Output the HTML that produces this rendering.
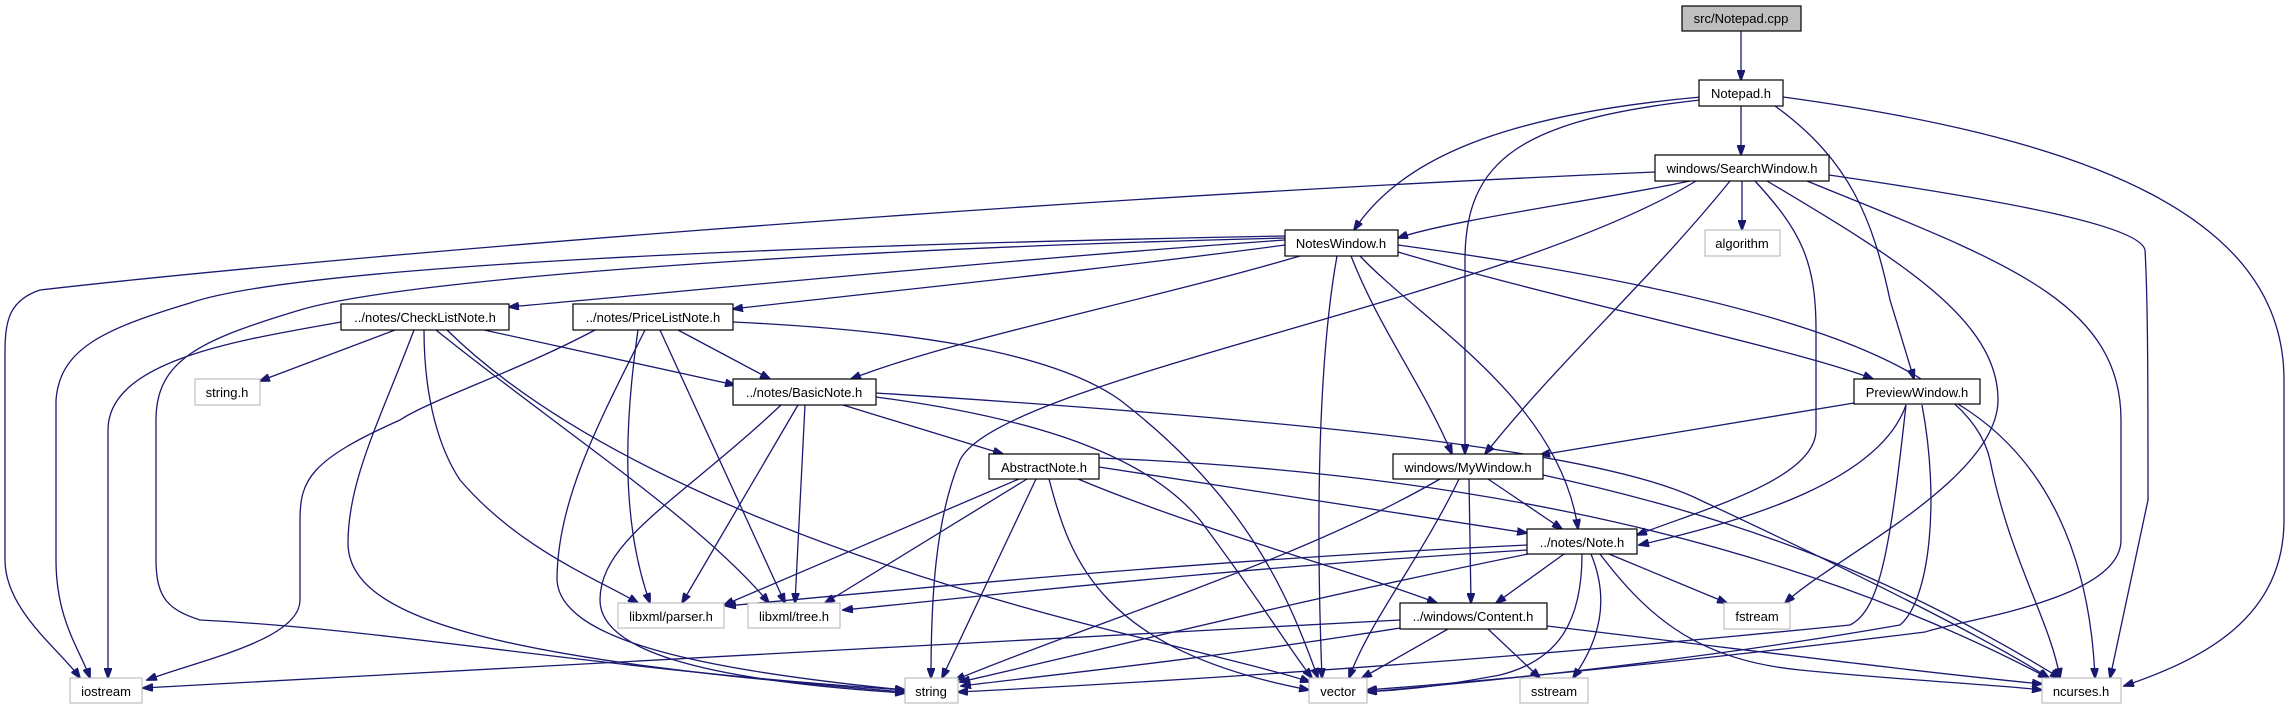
<!DOCTYPE html>
<html><head><meta charset="utf-8"><style>
html,body{margin:0;padding:0;background:#fff;}
svg{display:block}
text{font-family:"Liberation Sans",Arial,sans-serif;font-size:13px;text-anchor:middle;fill:#000}
.e{fill:none;stroke:#191970;stroke-width:1.3;marker-end:url(#a)}
.n{fill:#fff;stroke:#000;stroke-width:1.2}
.g{fill:#fff;stroke:#bfbfbf;stroke-width:1.2}
</style></head><body>
<svg width="2288" height="709" viewBox="0 0 2288 709" xmlns="http://www.w3.org/2000/svg">
<defs><marker id="a" markerWidth="11" markerHeight="8" refX="10" refY="4" orient="auto" markerUnits="userSpaceOnUse"><path d="M0,0 L11,4 L0,8 z" fill="#191970" stroke="#191970"/></marker></defs>
<g>
<path class="e" d="M1741,31 L1741,80"/>
<path class="e" d="M1741,106 L1741,155"/>
<path class="e" d="M1701,97 C1500,115 1400,160 1354,230"/>
<path class="e" d="M1700,100 C1520,120 1465,160 1465,260 L1465,454"/>
<path class="e" d="M1775,106 C1850,160 1873,220 1890,300 L1914,379"/>
<path class="e" d="M1783,97 C2100,140 2284,220 2284,380 L2284,520 C2284,620 2200,660 2124,686"/>
<path class="e" d="M1655,172 C1000,200 300,260 40,290 C10,300 5,320 5,350 L5,560 C5,610 60,650 80,678"/>
<path class="e" d="M1690,181 C1600,200 1450,220 1398,238"/>
<path class="e" d="M1696,181 C1500,300 1000,380 960,460 C935,520 931,600 931,678"/>
<path class="e" d="M1742,181 L1742,230"/>
<path class="e" d="M1730,181 C1650,280 1560,360 1485,454"/>
<path class="e" d="M1755,181 C1800,230 1816,260 1816,330 L1816,430 C1816,480 1700,510 1637,535"/>
<path class="e" d="M1767,181 C1900,260 1998,320 1998,400 C1998,480 1830,560 1785,603"/>
<path class="e" d="M1807,181 C2000,260 2121,300 2121,420 L2121,540 C2121,600 1960,620 1925,632 C1700,660 1500,680 1367,690"/>
<path class="e" d="M1829,175 C2000,200 2140,225 2145,250 C2148,300 2148,400 2148,500 L2110,678"/>
<path class="e" d="M1285,240 C1000,260 700,290 509,307"/>
<path class="e" d="M1285,245 C1100,270 850,295 733,309"/>
<path class="e" d="M1300,256 C1150,300 950,340 851,379"/>
<path class="e" d="M1285,236 C800,245 300,265 190,303 C100,330 60,350 56,400 L56,560 C56,620 80,650 90,678"/>
<path class="e" d="M1285,238 C800,250 400,280 300,310 C200,340 156,360 156,420 L156,560 C156,600 170,610 200,620 C400,630 600,670 905,690"/>
<path class="e" d="M1337,256 C1320,350 1315,500 1322,678"/>
<path class="e" d="M1351,256 C1380,330 1420,380 1452,454"/>
<path class="e" d="M1360,256 C1420,320 1560,400 1578,529"/>
<path class="e" d="M1398,252 C1560,300 1800,350 1873,379"/>
<path class="e" d="M1398,245 C1800,300 1970,370 1990,460 C2010,560 2050,620 2060,678"/>
<path class="e" d="M395,330 L260,381"/>
<path class="e" d="M484,330 L735,385"/>
<path class="e" d="M341,322 C240,340 108,360 108,430 L108,678"/>
<path class="e" d="M414,330 C380,420 348,480 348,543 C348,620 500,660 905,692"/>
<path class="e" d="M424,330 C424,400 440,450 460,480 C520,550 600,580 638,603"/>
<path class="e" d="M436,330 C560,430 700,520 769,603"/>
<path class="e" d="M447,330 C600,480 900,580 1150,640 C1250,665 1290,675 1310,682"/>
<path class="e" d="M678,330 L770,379"/>
<path class="e" d="M595,330 C520,370 430,400 400,420 C310,460 300,480 300,520 L300,600 C300,640 200,660 147,680"/>
<path class="e" d="M645,330 C600,420 557,500 557,580 C560,640 700,670 905,690"/>
<path class="e" d="M638,330 C625,420 620,520 650,603"/>
<path class="e" d="M660,330 L785,603"/>
<path class="e" d="M733,322 C900,330 1050,350 1120,400 C1250,500 1290,600 1318,678"/>
<path class="e" d="M843,405 L1003,454"/>
<path class="e" d="M798,405 L682,603"/>
<path class="e" d="M805,405 L795,603"/>
<path class="e" d="M781,405 C680,500 600,540 600,600 C600,650 700,680 905,693"/>
<path class="e" d="M876,397 C1050,420 1150,460 1200,520 C1260,600 1290,650 1312,678"/>
<path class="e" d="M876,393 C1300,420 1600,450 1700,500 C1850,570 1990,640 2049,678"/>
<path class="e" d="M1019,479 L724,605"/>
<path class="e" d="M1027,479 L825,603"/>
<path class="e" d="M1036,479 L942,678"/>
<path class="e" d="M1049,479 C1070,560 1100,650 1309,690"/>
<path class="e" d="M1099,467 L1527,533"/>
<path class="e" d="M1078,479 C1200,530 1350,570 1437,603"/>
<path class="e" d="M1099,458 C1400,470 1750,520 2048,678"/>
<path class="e" d="M1854,403 L1540,455"/>
<path class="e" d="M1906,405 C1880,480 1750,520 1639,545"/>
<path class="e" d="M1906,405 C1890,550 1880,610 1850,625 C1500,660 1200,680 958,692"/>
<path class="e" d="M1922,405 C1940,500 1930,600 1900,625 C1700,660 1500,680 1367,692"/>
<path class="e" d="M1958,404 C2050,460 2090,560 2095,678"/>
<path class="e" d="M1488,479 L1562,529"/>
<path class="e" d="M1469,479 L1471,603"/>
<path class="e" d="M1440,479 C1300,560 1100,620 955,680"/>
<path class="e" d="M1459,479 C1420,560 1370,620 1349,678"/>
<path class="e" d="M1543,475 C1750,520 1900,580 2060,678"/>
<path class="e" d="M1527,545 C1200,560 900,590 726,606"/>
<path class="e" d="M1527,550 C1200,570 950,600 843,610"/>
<path class="e" d="M1564,554 L1496,603"/>
<path class="e" d="M1609,554 L1727,603"/>
<path class="e" d="M1528,554 C1300,600 1100,650 960,682"/>
<path class="e" d="M1582,554 C1582,620 1560,660 1500,675 C1420,690 1390,690 1367,692"/>
<path class="e" d="M1591,554 C1610,600 1600,640 1573,678"/>
<path class="e" d="M1600,554 C1650,620 1700,660 1800,670 C1900,680 2000,685 2042,690"/>
<path class="e" d="M1400,620 C1000,640 500,670 143,688"/>
<path class="e" d="M1400,628 C1200,660 1050,675 961,686"/>
<path class="e" d="M1448,629 L1362,678"/>
<path class="e" d="M1488,629 L1540,678"/>
<path class="e" d="M1547,626 C1750,650 1900,670 2042,684"/>
</g>
<g>
<rect x="1682" y="6" width="119" height="25" fill="#bfbfbf" stroke="#000" stroke-width="1.2"/><text x="1741" y="23">src/Notepad.cpp</text>
<rect class="n" x="1699" y="80" width="84" height="26"/><text x="1741" y="98">Notepad.h</text>
<rect class="n" x="1655" y="155" width="174" height="26"/><text x="1742" y="173">windows/SearchWindow.h</text>
<rect class="n" x="1285" y="230" width="113" height="26"/><text x="1341" y="248">NotesWindow.h</text>
<rect class="g" x="1705" y="230" width="75" height="26"/><text x="1742" y="248">algorithm</text>
<rect class="n" x="341" y="304" width="168" height="26"/><text x="425" y="322">../notes/CheckListNote.h</text>
<rect class="n" x="573" y="304" width="160" height="26"/><text x="653" y="322">../notes/PriceListNote.h</text>
<rect class="g" x="195" y="379" width="65" height="26"/><text x="227" y="397">string.h</text>
<rect class="n" x="733" y="379" width="143" height="26"/><text x="804" y="397">../notes/BasicNote.h</text>
<rect class="n" x="1854" y="379" width="126" height="25"/><text x="1917" y="397">PreviewWindow.h</text>
<rect class="n" x="989" y="454" width="110" height="25"/><text x="1044" y="472">AbstractNote.h</text>
<rect class="n" x="1393" y="454" width="150" height="25"/><text x="1468" y="472">windows/MyWindow.h</text>
<rect class="n" x="1527" y="529" width="110" height="25"/><text x="1582" y="547">../notes/Note.h</text>
<rect class="g" x="618" y="603" width="106" height="25"/><text x="671" y="621">libxml/parser.h</text>
<rect class="g" x="748" y="603" width="92" height="25"/><text x="794" y="621">libxml/tree.h</text>
<rect class="n" x="1400" y="603" width="147" height="26"/><text x="1473" y="621">../windows/Content.h</text>
<rect class="g" x="1724" y="603" width="66" height="26"/><text x="1757" y="621">fstream</text>
<rect class="g" x="70" y="678" width="72" height="25"/><text x="106" y="696">iostream</text>
<rect class="g" x="905" y="678" width="53" height="25"/><text x="931" y="696">string</text>
<rect class="g" x="1309" y="678" width="58" height="25"/><text x="1338" y="696">vector</text>
<rect class="g" x="1520" y="678" width="68" height="25"/><text x="1554" y="696">sstream</text>
<rect class="g" x="2042" y="678" width="79" height="25"/><text x="2081" y="696">ncurses.h</text>
</g>
</svg>
</body></html>
